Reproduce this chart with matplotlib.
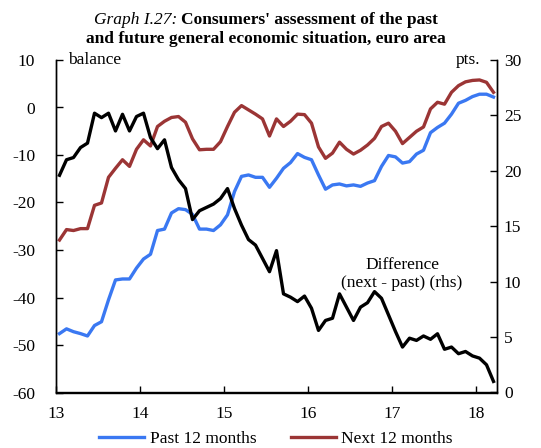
import matplotlib
matplotlib.use("Agg")
import matplotlib.pyplot as plt
import numpy as np

# monthly data, Jan 2013 - Mar 2018
past_12m = [
    -47.6, -46.6, -47.2, -47.6, -48.1, -45.9, -45.1, -40.5, -36.3, -36.1, -36.1, -33.8,
    -31.9, -30.9, -25.9, -25.6, -22.2, -21.3, -21.5, -22.5, -25.6, -25.6, -25.9, -24.7,
    -22.6, -17.7, -14.5, -14.2, -14.7, -14.7, -16.8, -14.9, -12.8, -11.6, -9.7, -10.5,
    -11.0, -14.2, -17.2, -16.3, -16.1, -16.5, -16.3, -16.6, -15.9, -15.4, -12.4, -10.1,
    -10.4, -11.7, -11.4, -9.8, -9.0, -5.3, -4.2, -3.3, -1.4, 0.9, 1.5, 2.3,
    2.8, 2.8, 2.2,
]
next_12m = [
    -27.9, -25.7, -25.9, -25.5, -25.5, -20.6, -20.1, -14.7, -12.8, -11.0, -12.4, -8.8,
    -6.8, -8.1, -4.0, -2.9, -2.1, -1.9, -3.1, -6.6, -8.9, -8.8, -8.8, -7.2,
    -4.0, -1.0, 0.4, -0.5, -1.4, -2.4, -6.0, -2.4, -4.0, -2.9, -1.4, -1.5,
    -3.3, -8.3, -10.7, -9.6, -7.3, -8.8, -9.8, -9.0, -7.9, -6.5, -4.0, -3.3,
    -5.0, -7.6, -6.3, -5.0, -4.1, -0.3, 1.1, 0.7, 3.2, 4.6, 5.4, 5.7,
    5.8, 5.3, 3.2,
]
difference = [
    19.6, 21.0, 21.2, 22.1, 22.5, 25.2, 24.8, 25.2, 23.6, 25.1, 23.6, 24.9,
    25.2, 23.0, 22.0, 22.8, 20.3, 19.2, 18.4, 15.6, 16.4, 16.7, 17.0, 17.5,
    18.4, 16.6, 15.1, 13.8, 13.3, 12.1, 10.9, 12.8, 8.9, 8.6, 8.2, 8.7,
    7.6, 5.6, 6.5, 6.7, 8.9, 7.7, 6.5, 7.7, 8.1, 9.1, 8.5, 7.0,
    5.5, 4.1, 4.9, 4.7, 5.1, 4.8, 5.3, 3.9, 4.1, 3.5, 3.7, 3.3,
    3.1, 2.5, 1.0,
]
year_ticks = [2013, 2014, 2015, 2016, 2017, 2018]
year_labels = ["13", "14", "15", "16", "17", "18"]

FS = 12.5
plt.rcParams["font.family"] = ["Liberation Serif", "DejaVu Serif"]
plt.rcParams["font.size"] = FS
plt.rcParams["axes.unicode_minus"] = False

BLUE = "#3a78f2"
RED = "#9b3535"

x = 2013 + (np.arange(len(past_12m)) + 0.5) / 12

fig = plt.figure(figsize=(5.41, 4.48), dpi=100)
ax = fig.add_axes([56 / 541, 1 - 392.5 / 448, (497 - 56) / 541, (392.5 - 60) / 448])
ax2 = ax.twinx()

l1, = ax.plot(x, past_12m, color=BLUE, lw=2.4, label="Past 12 months")
l2, = ax.plot(x, next_12m, color=RED, lw=2.4, label="Next 12 months")
ax2.plot(x, difference, color="black", lw=2.4)

ax.set_xlim(2013, 2018.25)
ax.set_ylim(-60, 10)
ax2.set_ylim(0, 30)
ax.set_yticks(range(-60, 11, 10))
ax2.set_yticks(range(0, 31, 5))
ax.set_xticks(year_ticks)
ax.set_xticklabels(year_labels)

for a in (ax, ax2):
    a.spines["top"].set_visible(False)
    for s in ("left", "right", "bottom"):
        a.spines[s].set_linewidth(1.0)
ax.tick_params(axis="both", direction="in", length=5, width=1.0, labelsize=FS)
ax.tick_params(axis="y", pad=15)
ax.tick_params(axis="x", pad=10)
ax2.tick_params(axis="y", direction="in", length=5, width=1.0, labelsize=FS, pad=5)

ax.text(0.027, 1.0, "balance", transform=ax.transAxes, ha="left", va="center", fontsize=FS)
ax.text(0.963, 1.0, "pts.", transform=ax.transAxes, ha="right", va="center", fontsize=FS)
ax2.text(2017.12, 10.7, "Difference\n(next - past) (rhs)", ha="center", va="center",
         fontsize=FS, linespacing=1.2)

# title: italic prefix + bold remainder
fig.canvas.draw()
r = fig.canvas.get_renderer()
t1 = fig.text(0, 0, "Graph I.27: ", style="italic", fontsize=FS)
t2 = fig.text(0, 0, "Consumers' assessment of the past", weight="bold", fontsize=FS)
w1 = t1.get_window_extent(r).width
w2 = t2.get_window_extent(r).width
cx = 266
x0 = cx - (w1 + w2) / 2
ty = 1 - 23.5 / 448
t1.set_position((x0 / 541, ty))
t2.set_position(((x0 + w1) / 541, ty))
t1.set_va("baseline")
t2.set_va("baseline")
fig.text(cx / 541, 1 - 43 / 448, "and future general economic situation, euro area",
         weight="bold", fontsize=FS, ha="center", va="baseline")

fig.legend(handles=[l1, l2], loc="center", bbox_to_anchor=(276 / 541, 1 - 439 / 448), ncol=2,
           frameon=False, fontsize=FS, handlelength=2.6, handletextpad=0.3,
           columnspacing=2.0, borderaxespad=0)

fig.savefig("out.png", dpi=100)
